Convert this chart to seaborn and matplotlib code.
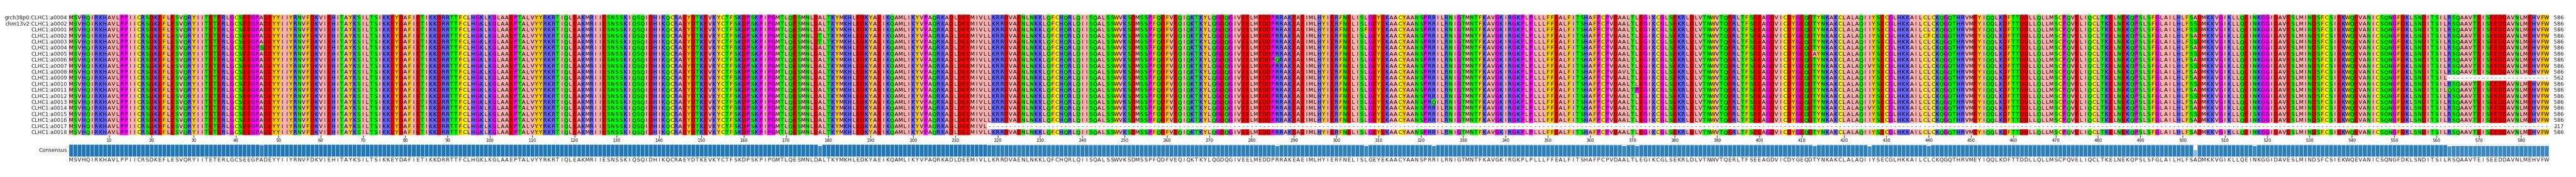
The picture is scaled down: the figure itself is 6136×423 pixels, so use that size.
import numpy as np
import matplotlib
matplotlib.use("Agg")
import matplotlib.pyplot as plt
from matplotlib.colors import ListedColormap, to_rgba
import seaborn as sns

# ---------------- data ----------------
NAMES = ["grch38p0:CLHC1:a0004", "chm13v2:CLHC1:a0002"] + [f"CLHC1:a{i:04d}" for i in range(1, 19)]

REFERENCE_SEQ = (
    "MSVHQIRKHAVLPPIICRSDKEFLESVQRYIITETERLGCSEEGPADEYYIIYRNVFDK"
    "VIEHITAYKSILTSIKKEYDAFIETIKKDRRTTFCLHGKLKGLAAEPTALVYYRKRTIQ"
    "LEAKMRIIESNSSKIQSQIDHIKQCRAEYDTKEVKYCTFSKDPSKPIPGMTLQESMNLD"
    "ALTKYMKHLEDKYAEIKQAMLIKYVPAQRKADLDEEMIVLLKRRDVAENLNKKLQFCHQ"
    "RLQIISQALSSWVKSDMSSPFQDFVEQIQKTKYLQGDQGIVEELMEDDPRRAKEAEIML"
    "HYIERFNELISLGEYEKAACYAANSPRRILRNIGTMNTFKAVGKIRGKPLPLLLFFEAL"
    "FITSHAFPCPVDAALTLEGIKCGLSEKRLDLVTNWVTQERLTFSEEAGDVICDYGEQDT"
    "YNKAKCLALAQIIYSECGLHKKAILCLCKQGQTHRVMEYIQQLKDFTTDDLLQLLMSCP"
    "QVELIQCLTKELNEKQPSLSFGLAILHLFSADMKKVGIKLLQEINKGGIDAVESLMIND"
    "SFCSIEKWQEVANICSQNGFDKLSNDITSILRSQAAVTEISEEDDAVNLMEHVFW"
)

# gap regions: row index -> first gapped column (1-based), to the end
GAP_FROM = {10: 563, 18: 218}

# point substitutions: (row index, column 1-based, residue)
SUBSTITUTIONS = [
    (5, 46, "S"), (3, 178, "T"), (4, 178, "T"), (7, 286, "Q"), (2, 307, "F"),
    (14, 323, "Q"), (9, 368, "V"), (12, 371, "P"), (6, 413, "A"),
    (8, 426, "V"), (15, 426, "V"), (3, 440, "F"),
    (1, 503, "S"), (2, 503, "S"), (4, 503, "S"), (6, 503, "S"),
    (8, 503, "S"), (11, 503, "S"), (13, 503, "S"), (16, 503, "S"),
    (16, 517, "S"), (12, 563, "Q"),
]

TICKS = list(range(10, 581, 10))

# Zappo colour scheme
GROUPS = {"ILVAM": "#ffafaf", "FWY": "#ffc800", "KRH": "#6464ff", "DE": "#ff0000",
          "STNQ": "#00ff00", "PG": "#ff00ff", "C": "#ffff00", "-": "#ffffff"}

# ---------------- build alignment ----------------
L = len(REFERENCE_SEQ)
rows = [list(REFERENCE_SEQ) for _ in NAMES]
for r, start in GAP_FROM.items():
    for c in range(start - 1, L):
        rows[r][c] = "-"
for r, c, aa in SUBSTITUTIONS:
    rows[r][c - 1] = aa
aln = np.array(rows)
nrow = len(NAMES)

group_keys = list(GROUPS.keys())
def grp(a):
    for i, k in enumerate(group_keys):
        if a in k:
            return i
    return group_keys.index("-")
mat = np.vectorize(grp)(aln)
cmap = ListedColormap([GROUPS[k] for k in group_keys])

consensus = []
identity = []
for c in range(L):
    col = list(aln[:, c])
    vals, cnts = np.unique([x for x in col if x != "-"], return_counts=True)
    top = vals[np.argmax(cnts)]
    consensus.append(top)
    identity.append(sum(1 for x in col if x == top) / nrow)
identity = np.array(identity)
lengths = [(aln[r] != "-").sum() for r in range(nrow)]

# ---------------- draw ----------------
W, H, DPI = 6136, 423, 100
fig = plt.figure(figsize=(W / DPI, H / DPI), dpi=DPI)
x0, x1 = 164 / W, 6071 / W
ax = fig.add_axes([x0, 1 - 323 / H, x1 - x0, (323 - 35) / H])
sns.heatmap(mat, ax=ax, cmap=cmap, vmin=-0.5, vmax=len(group_keys) - 0.5, cbar=False,
            xticklabels=False, yticklabels=False)
for r in range(nrow):
    for c in range(L):
        a = aln[r, c]
        ax.text(c + 0.5, r + 0.55, a, ha="center", va="center", fontsize=9,
                color="#333333" if a == "-" else "black")
    ax.text(-0.4, r + 0.55, NAMES[r], ha="right", va="center", fontsize=9, color="#222222")
    ax.text(L + 1.2, r + 0.55, str(lengths[r]), ha="left", va="center", fontsize=9, color="#222222")
ax.set_xlim(0, L)
ax.set_ylim(nrow, 0)
ax.set_xticks([t - 0.5 for t in TICKS])
ax.set_xticklabels([str(t) for t in TICKS], fontsize=7)
ax.tick_params(axis="x", length=4, width=0.8, pad=2, bottom=True)
ax.set_yticks([])
for s in ax.spines.values():
    s.set_visible(False)

cax = fig.add_axes([x0, 1 - 374 / H, x1 - x0, (374 - 345) / H])
base = to_rgba("#1f77b4")
colors = [(base[0], base[1], base[2], v ** 1.2) for v in identity]
cax.bar(np.arange(L) + 0.5, identity, width=1.0, color=colors, edgecolor="#d8e6f0", linewidth=0.8)
cax.set_xlim(0, L)
cax.set_ylim(0, 1.0)
cax.set_xticks([])
cax.set_yticks([])
for s in cax.spines.values():
    s.set_color("#c8dbe8")
    s.set_linewidth(0.8)
cax.text(-0.4, 0.5, "Consensus", ha="right", va="center", fontsize=9, color="#222222",
         transform=cax.get_yaxis_transform() if False else cax.transData)
for c in range(L):
    cax.text(c + 0.5, -0.28, consensus[c], ha="center", va="center", fontsize=9, color="#222222")

fig.savefig("out.png", dpi=DPI)
